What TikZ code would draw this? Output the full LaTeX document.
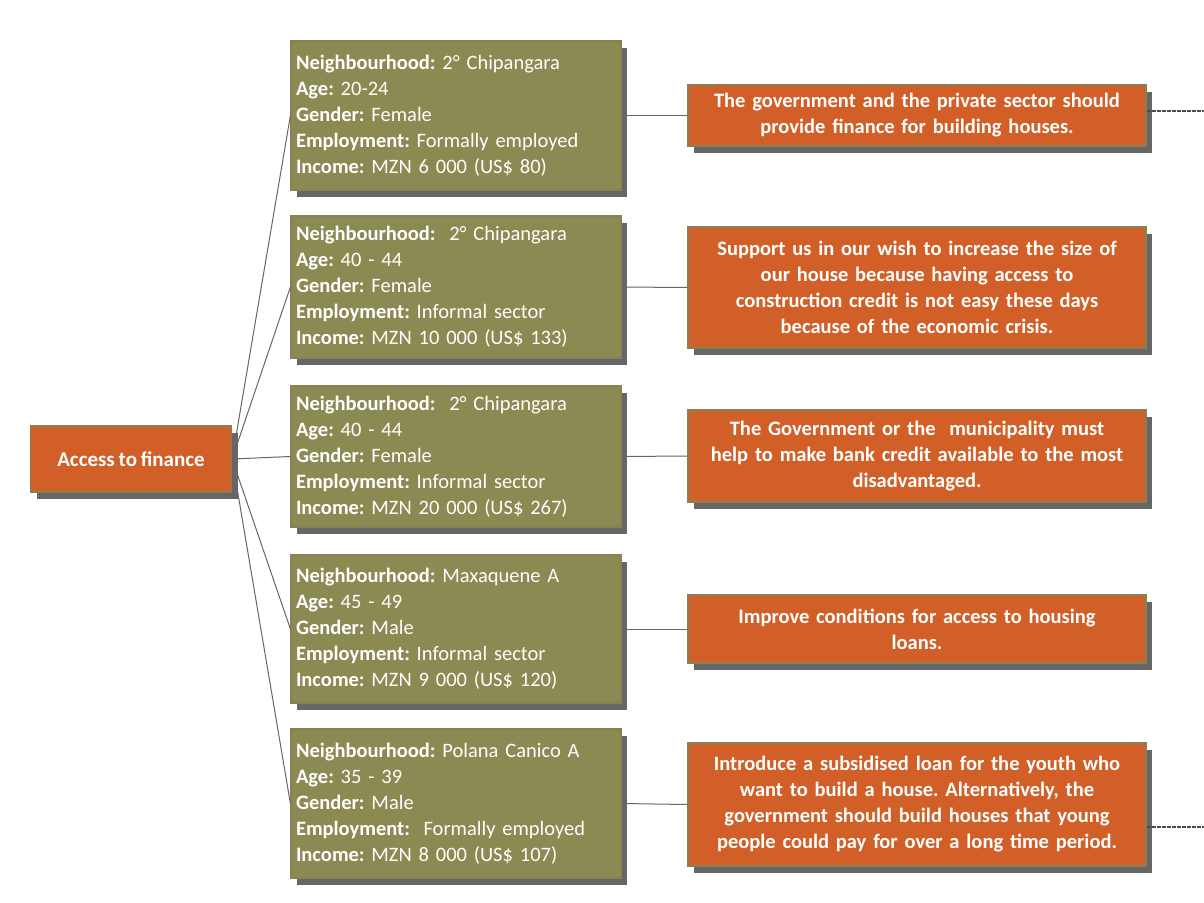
\documentclass[tikz,border=0pt]{standalone}
\usepackage{fontspec}
\setmainfont{Carlito}[WordSpace={0.8,0.5,0.3}]
\frenchspacing
\usetikzlibrary{positioning,shadows}
\definecolor{rust}{HTML}{D35F28}
\definecolor{olive}{HTML}{8B8A52}
\definecolor{rim}{HTML}{8A8055}

\begin{document}
\begin{tikzpicture}[
    x=1pt, y=-1pt,
    box/.style={draw=rim, line width=1.2pt, text=white, inner sep=5pt,
        drop shadow={shadow xshift=6pt, shadow yshift=-7pt, opacity=0.6, fill=black}},
    person/.style={box, fill=olive, minimum width=330pt, text width=320pt, align=left,
        font=\fontsize{20.5}{26}\selectfont},
    wish/.style={box, fill=rust, minimum width=458pt, text width=448pt, align=center,
        font=\fontsize{20.5}{26}\selectfont\bfseries},
    link/.style={draw=gray!80!black, line width=1pt},
    tail/.style={draw=gray!60!black, line width=2.5pt, dash pattern=on 4pt off 1pt}
]
\useasboundingbox (0,0) rectangle (1204,902);

% Root topic
\node[box, fill=rust, minimum width=201pt, minimum height=66pt,
    font=\fontsize{21}{24}\selectfont\bfseries] (root) at (131,459) {Access to finance};

% Respondents
\node[person, minimum height=149pt] (p1) at (456,115.5) {\textbf{Neighbourhood:} 2° Chipangara\\\textbf{Age:} 20-24\\\textbf{Gender:} Female\\\textbf{Employment:} Formally employed\\\textbf{Income:} MZN 6 000 (US\$ 80)};
\node[person, minimum height=142pt] (p2) at (456,287) {\textbf{Neighbourhood:}\ \ 2° Chipangara\\\textbf{Age:} 40 - 44\\\textbf{Gender:} Female\\\textbf{Employment:} Informal sector\\\textbf{Income:} MZN 10 000 (US\$ 133)};
\node[person, minimum height=141pt] (p3) at (456,456.5) {\textbf{Neighbourhood:}\ \ 2° Chipangara\\\textbf{Age:} 40 - 44\\\textbf{Gender:} Female\\\textbf{Employment:} Informal sector\\\textbf{Income:} MZN 20 000 (US\$ 267)};
\node[person, minimum height=148pt] (p4) at (456,629) {\textbf{Neighbourhood:} Maxaquene A\\\textbf{Age:} 45 - 49\\\textbf{Gender:} Male\\\textbf{Employment:} Informal sector\\\textbf{Income:} MZN 9 000 (US\$ 120)};
\node[person, minimum height=149pt] (p5) at (456,803.5) {\textbf{Neighbourhood:} Polana Canico A\\\textbf{Age:} 35 - 39\\\textbf{Gender:} Male\\\textbf{Employment:}\ \ Formally employed\\\textbf{Income:} MZN 8 000 (US\$ 107)};

% Wishes
\node[wish, minimum height=61pt] (w1) at (917,115.5) {The government and the private sector should\\provide finance for building houses.};
\node[wish, minimum height=121pt] (w2) at (917,287.5) {Support us in our wish to increase the size of\\our house because having access to\\construction credit is not easy these days\\because of the economic crisis.};
\node[wish, minimum height=92pt] (w3) at (917,456) {The Government or the\ \ municipality must\\help to make bank credit available to the most\\disadvantaged.};
\node[wish, minimum height=68pt] (w4) at (917,629) {Improve conditions for access to housing\\loans.};
\node[wish, minimum height=123pt] (w5) at (917,804.5) {Introduce a subsidised loan for the youth who\\want to build a house. Alternatively, the\\government should build houses that young\\people could pay for over a long time period.};

% Connectors
\foreach \i in {1,...,5} {
    \draw[link] (root.east) -- (p\i.west);
    \draw[link] (p\i.east) -- (w\i.west);
}
\coordinate (e1) at (1204,111);
\coordinate (e5) at (1204,827);
\draw[tail] (w1.east |- e1) -- (e1);
\draw[tail] (w5.east |- e5) -- (e5);
\end{tikzpicture}
\end{document}
